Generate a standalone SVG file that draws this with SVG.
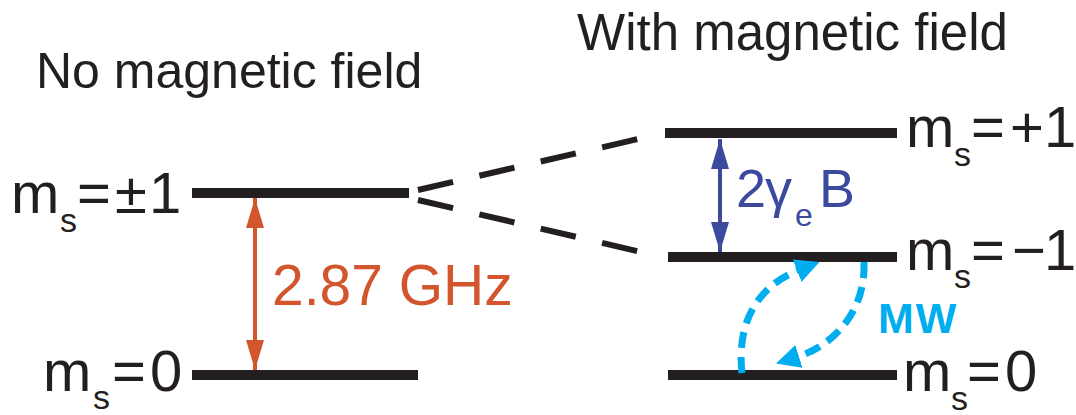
<svg xmlns="http://www.w3.org/2000/svg" width="1076" height="415" viewBox="0 0 1076 415">
  <style>
    text { font-family: "Liberation Sans", Arial, Helvetica, sans-serif; fill: #231f20; }
    .title { font-size: 50px; }
    .lbl { font-size: 58px; }
    .sub { font-size: 34px; }
    .level { stroke: #231f20; stroke-width: 10; stroke-linecap: butt; fill: none; }
    .split { stroke: #231f20; stroke-width: 6; stroke-dasharray: 36 27; fill: none; }
    .gap-red { stroke: #d2552e; stroke-width: 4; fill: none; }
    .gap-blue { stroke: #3c4a9e; stroke-width: 4; fill: none; }
    .mw { stroke: #00aeef; stroke-width: 7; stroke-dasharray: 16 9; fill: none; }
  </style>
  <defs>
    <marker id="head-red" markerUnits="userSpaceOnUse" markerWidth="30" markerHeight="18" refX="30" refY="9" orient="auto-start-reverse">
      <path d="M0,0 L30,9 L0,18 z" fill="#d2552e"/>
    </marker>
    <marker id="head-blue" markerUnits="userSpaceOnUse" markerWidth="30" markerHeight="18" refX="30" refY="9" orient="auto-start-reverse">
      <path d="M0,0 L30,9 L0,18 z" fill="#3c4a9e"/>
    </marker>
    <marker id="head-mw" markerUnits="userSpaceOnUse" markerWidth="26" markerHeight="26" refX="2" refY="12" orient="auto">
      <path d="M0,0 L24,12 L0,24 z" fill="#00aeef"/>
    </marker>
  </defs>

  <rect width="1076" height="415" fill="#ffffff"/>

  <!-- headings -->
  <text class="title" x="36" y="88">No magnetic field</text>
  <text class="title" x="577" y="50" style="font-size:51px">With magnetic field</text>

  <!-- zero-field levels -->
  <g id="zf-plus-minus-one">
    <line class="level" x1="192" y1="193" x2="409" y2="193"/>
    <text class="lbl" y="213"><tspan x="11">m</tspan><tspan class="sub" x="60" y="232">s</tspan><tspan x="77" y="213">=</tspan><tspan x="115">±</tspan><tspan x="149">1</tspan></text>
  </g>
  <g id="zf-zero">
    <line class="level" x1="192" y1="375" x2="418" y2="375"/>
    <text class="lbl" y="391"><tspan x="43">m</tspan><tspan class="sub" x="93" y="409">s</tspan><tspan x="112" y="391">=</tspan><tspan x="150">0</tspan></text>
  </g>

  <!-- Zeeman-split levels -->
  <g id="b-plus-one">
    <line class="level" x1="665" y1="133" x2="897" y2="133"/>
    <text class="lbl" y="147"><tspan x="906">m</tspan><tspan class="sub" x="954" y="166">s</tspan><tspan x="971" y="147">=</tspan><tspan x="1010">+</tspan><tspan x="1044">1</tspan></text>
  </g>
  <g id="b-minus-one">
    <line class="level" x1="668" y1="257" x2="897" y2="257"/>
    <text class="lbl" y="270"><tspan x="906">m</tspan><tspan class="sub" x="954" y="288">s</tspan><tspan x="971" y="270">=</tspan><tspan x="1012">−</tspan><tspan x="1044">1</tspan></text>
  </g>
  <g id="b-zero">
    <line class="level" x1="668" y1="375" x2="897" y2="375"/>
    <text class="lbl" y="391"><tspan x="903">m</tspan><tspan class="sub" x="951" y="410">s</tspan><tspan x="967" y="391">=</tspan><tspan x="1005">0</tspan></text>
  </g>

  <!-- connectors -->
  <g id="connectors">
    <line class="split" x1="418" y1="190" x2="638" y2="139"/>
    <line class="split" x1="418" y1="200" x2="641" y2="252"/>
    <line class="gap-red" x1="255" y1="198" x2="255" y2="370" marker-start="url(#head-red)" marker-end="url(#head-red)"/>
    <line class="gap-blue" x1="720" y1="139" x2="720" y2="252" marker-start="url(#head-blue)" marker-end="url(#head-blue)"/>
    <path class="mw" d="M742,373 C736,320 760,285 799,270" marker-end="url(#head-mw)"/>
    <path class="mw" d="M864,262 C866,310 835,345 797,357" marker-end="url(#head-mw)"/>
  </g>

  <!-- transition labels -->
  <text x="272" y="305" style="font-size:57px; fill:#d2552e">2.87 GHz</text>
  <text y="207" style="font-size:54px; fill:#3c4a9e"><tspan x="736">2</tspan><tspan x="765">γ</tspan><tspan x="795" y="226" style="font-size:32px">e</tspan><tspan x="819" y="207">B</tspan></text>
  <text x="878" y="333" style="font-size:43px; font-weight:bold; fill:#00aeef; letter-spacing:2px">MW</text>
</svg>
